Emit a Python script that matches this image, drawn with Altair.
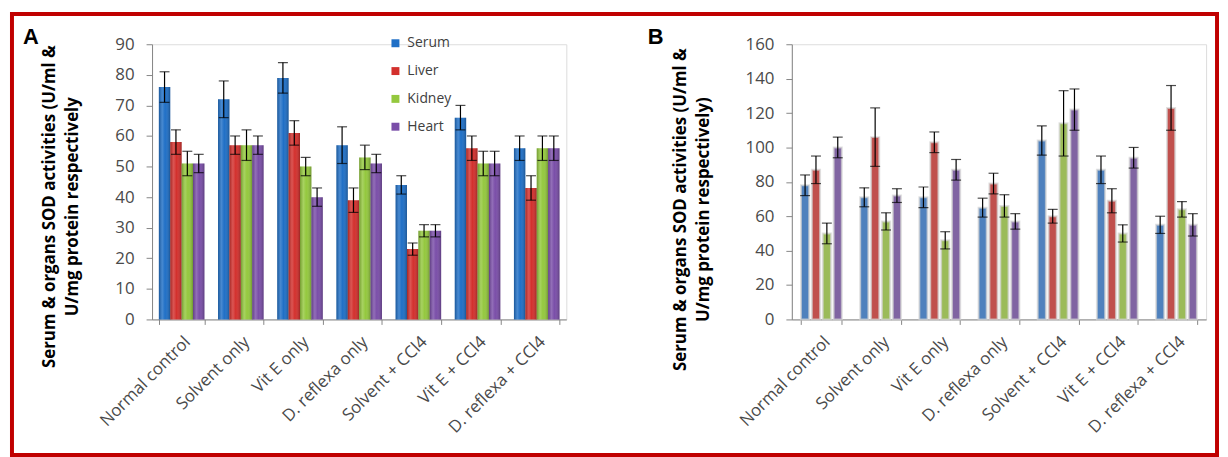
import altair as alt
import pandas as pd

groups = ["Normal control", "Solvent only", "Vit E only", "D. reflexa only",
          "Solvent + CCl4", "Vit E + CCl4", "D. reflexa + CCl4"]
organs = ["Serum", "Liver", "Kidney", "Heart"]

# Panel A values (mean, error)
a_serum = [76, 72, 79, 57, 44, 66, 56]
a_serum_err = [5, 6, 5, 6, 3, 4, 4]
a_liver = [58, 57, 61, 39, 23, 56, 43]
a_liver_err = [4, 3, 4, 4, 2, 4, 4]
a_kidney = [51, 57, 50, 53, 29, 51, 56]
a_kidney_err = [4, 5, 3, 4, 2, 4, 4]
a_heart = [51, 57, 40, 51, 29, 51, 56]
a_heart_err = [3, 3, 3, 3, 2, 4, 4]

# Panel B values (mean, error)
b_serum = [78, 71, 71, 65, 104, 87, 55]
b_serum_err = [6, 5.5, 6, 5.5, 8.5, 8, 5]
b_liver = [87, 106, 103, 79, 60, 69, 123]
b_liver_err = [8, 17, 6, 6, 4, 7, 13]
b_kidney = [50, 57, 46, 66, 114, 50, 64]
b_kidney_err = [6, 5, 5, 6.5, 19, 5, 4.5]
b_heart = [100, 72, 87, 57, 122, 94, 55]
b_heart_err = [6, 4, 6, 4.5, 12, 6, 6.5]

a_colors = ["#1F6FC6", "#D3302D", "#94C83E", "#7A4EA8"]
b_colors = ["#4F81BD", "#C0504D", "#9BBB59", "#8064A2"]

title_a = ["Serum & organs SOD activities (U/ml &", "U/mg protein respectively"]
title_b = ["Serum & organs SOD activities (U/ml &", "U/mg protein respectively)"]

FONT = "Open Sans"
W, H = 417, 277

SHINE = {"gradient": "linear", "x1": 0, "y1": 0, "x2": 1, "y2": 0,
         "stops": [{"offset": 0, "color": "rgba(0,0,0,0.22)"},
                   {"offset": 0.3, "color": "rgba(255,255,255,0.18)"},
                   {"offset": 0.55, "color": "rgba(255,255,255,0.0)"},
                   {"offset": 1, "color": "rgba(0,0,0,0.25)"}]}


def build_df(series, errs):
    rows = []
    for organ, vals, es in zip(organs, series, errs):
        for g, v, e in zip(groups, vals, es):
            rows.append({"group": g, "organ": organ, "value": v,
                         "lo": v - e, "hi": v + e})
    return pd.DataFrame(rows)


def caps_df(df):
    lo = df[["group", "organ", "lo"]].rename(columns={"lo": "cap"})
    hi = df[["group", "organ", "hi"]].rename(columns={"hi": "cap"})
    return pd.concat([lo, hi], ignore_index=True)


def panel(df, ymax, ystep, colors, title, title_x, title_y, letter, letter_xy,
          pin, pout, off_pin, legend, bar_kwargs, border=False, shine=False):
    xaxis = alt.Axis(title=None, labelAngle=-45, labelAlign="right", labelBaseline="top",
                     tickBand="extent", tickSize=5, labelPadding=9,
                     domainColor="#868686", tickColor="#868686",
                     labelColor="#4a4a4a", labelFontSize=17, labelFont=FONT, labelLimit=0)
    yaxis = alt.Axis(values=list(range(0, ymax + 1, ystep)), grid=False,
                     domainColor="#868686", tickColor="#868686", tickSize=6,
                     labelPadding=12, labelColor="#4a4a4a", labelFontSize=17, labelFont=FONT,
                     title=title, titleFont=FONT, titleFontSize=17, titleFontWeight="bold",
                     titleColor="#000000", titleAngle=-90, titleX=title_x, titleY=title_y,
                     titleAlign="center", titleBaseline="middle", titleLineHeight=23)
    xenc = alt.X("group:N", sort=groups, axis=xaxis,
                 scale=alt.Scale(paddingInner=pin, paddingOuter=pout))
    xoff = alt.XOffset("organ:N", sort=organs,
                       scale=alt.Scale(paddingInner=off_pin, paddingOuter=0))
    yscale = alt.Scale(domain=[0, ymax], nice=False)

    if legend:
        leg = alt.Legend(title=None, orient="none", legendX=238, legendY=-8,
                         direction="vertical", symbolType="square", symbolSize=64,
                         symbolStrokeWidth=0, labelFontSize=14, labelFont=FONT,
                         labelColor="#404040", rowPadding=14, labelOffset=5, padding=0)
    else:
        leg = None
    color = alt.Color("organ:N", sort=organs,
                      scale=alt.Scale(domain=organs, range=colors), legend=leg)

    bars = alt.Chart(df).mark_bar(**bar_kwargs).encode(
        x=xenc, xOffset=xoff,
        y=alt.Y("value:Q", scale=yscale, axis=yaxis),
        color=color,
    )
    rules = alt.Chart(df).mark_rule(color="#000000", strokeWidth=1.2).encode(
        x=xenc, xOffset=xoff,
        y=alt.Y("lo:Q", scale=yscale, axis=yaxis),
        y2="hi:Q",
    )
    caps = alt.Chart(caps_df(df)).mark_tick(color="#000000", thickness=1.2, size=10).encode(
        x=xenc, xOffset=xoff,
        y=alt.Y("cap:Q", scale=yscale, axis=yaxis),
    )
    lab = alt.Chart(pd.DataFrame({"t": [letter]})).mark_text(
        font="Liberation Sans", fontSize=22, fontWeight="bold",
        align="center", baseline="middle", color="#000000"
    ).encode(x=alt.value(letter_xy[0]), y=alt.value(letter_xy[1]), text="t:N")
    layers = [bars]
    if shine:
        gloss = alt.Chart(df).mark_bar(color=SHINE).encode(
            x=xenc, xOffset=xoff,
            y=alt.Y("value:Q", scale=yscale, axis=yaxis),
        )
        layers.append(gloss)
    layers += [rules, caps, lab]
    if border:
        frame = alt.Chart(pd.DataFrame({"t": [1]})).mark_rect(
            fillOpacity=0, stroke="#C00000", strokeWidth=4
        ).encode(x=alt.value(-141), x2=alt.value(1072),
                 y=alt.value(-30.5), y2=alt.value(413.5))
        layers = [frame] + layers
    return alt.layer(*layers).properties(width=W, height=H)


df_a = build_df([a_serum, a_liver, a_kidney, a_heart],
                [a_serum_err, a_liver_err, a_kidney_err, a_heart_err])
df_b = build_df([b_serum, b_liver, b_kidney, b_heart],
                [b_serum_err, b_liver_err, b_kidney_err, b_heart_err])

chart_a = panel(df_a, 90, 10, a_colors, title_a, -103, 163, "A", (-122, -7),
                0.23, 0.115, 0.0, True, {}, border=True, shine=True)
chart_b = panel(df_b, 160, 20, b_colors, title_b, -112, 166, "B", (-137, -7.5),
                0.31, 0.155, 0.25, False,
                {"stroke": "#d4d4d4", "strokeWidth": 2, "strokeOpacity": 0.7})

chart = alt.hconcat(chart_a, chart_b, spacing=227, bounds="flush").resolve_scale(
    color="independent", xOffset="independent"
).properties(
    padding={"left": 1, "top": 2, "right": 0, "bottom": 0}
).configure_view(stroke=None).configure(font=FONT)

chart.save("out.html", embed_options={"renderer": "svg", "actions": False})
